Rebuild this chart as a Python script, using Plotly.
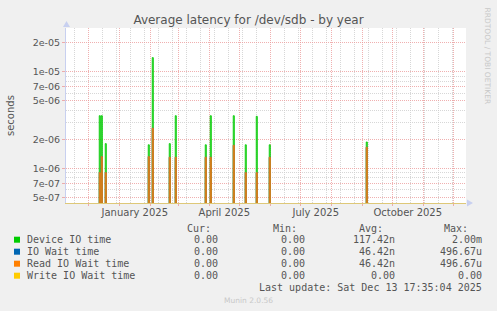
import pandas as pd
import plotly.graph_objects as go

# ---------------- data ----------------
START = "2024-11-08 17:35:04"
END = "2025-12-13 17:35:04"

spike_dates = ["2024-12-12", "2024-12-14", "2024-12-18", "2025-01-30", "2025-02-03",
               "2025-02-20", "2025-02-26", "2025-03-28", "2025-04-02", "2025-04-25",
               "2025-05-07", "2025-05-18", "2025-05-31", "2025-09-05"]
device_io = [3.5e-6, 3.5e-6, 1.8e-6, 1.75e-6, 1.4e-5,
             1.8e-6, 3.5e-6, 1.75e-6, 3.5e-6, 3.5e-6,
             1.75e-6, 3.45e-6, 1.75e-6, 1.87e-6]
io_wait = [9.0e-7, 1.32e-6, 9.0e-7, 1.32e-6, 2.6e-6,
           1.3e-6, 1.3e-6, 1.3e-6, 1.3e-6, 1.73e-6,
           9.0e-7, 9.0e-7, 1.3e-6, 1.65e-6]
read_io_wait = [9.0e-7, 1.32e-6, 9.0e-7, 1.32e-6, 2.6e-6,
                1.3e-6, 1.3e-6, 1.3e-6, 1.3e-6, 1.73e-6,
                9.0e-7, 9.0e-7, 1.3e-6, 1.65e-6]
write_io_wait = [0.0, 0.0, 0.0, 0.0, 0.0, 0.0, 0.0, 0.0, 0.0, 0.0, 0.0, 0.0, 0.0, 0.0]

y_major = [5e-7, 7e-7, 1e-6, 2e-6, 5e-6, 7e-6, 1e-5, 2e-5]
y_major_text = ["5e-07", "7e-07", "1e-06", "2e-06", "5e-06", "7e-06", "1e-05", "2e-05"]
y_minor = [6e-7, 8e-7, 9e-7, 3e-6, 4e-6, 6e-6, 8e-6, 9e-6]

x_label_vals = ["2025-01-16 12:00", "2025-04-16", "2025-07-16 12:00", "2025-10-16 12:00"]
x_label_text = ["January 2025", "April 2025", "July 2025", "October 2025"]

legend_names = ["Device IO time", "IO Wait time", "Read IO Wait time", "Write IO Wait time"]
legend_colors = ["#00CC00", "#0066B3", "#FF8000", "#FFCC00"]
cur_vals = ["0.00", "0.00", "0.00", "0.00"]
min_vals = ["0.00", "0.00", "0.00", "0.00"]
avg_vals = ["117.42n", "46.42n", "46.42n", "0.00"]
max_vals = ["2.00m", "496.67u", "496.67u", "0.00"]

# zero values sit below the log axis (rrdtool clips them to the bottom)
FLOOR = 1e-9
days = pd.date_range("2024-11-08", "2025-12-14", freq="D")


def daily(vals):
    s = pd.Series(0.0, index=days)
    s.loc[pd.to_datetime(spike_dates)] = vals
    return s.clip(lower=FLOOR)


# ---------------- layout geometry ----------------
W, H = 497, 311
L, R, T, B = 66, 466, 28, 203


def px(x):
    return (x - L) / (R - L)


def py(y):
    return (B - y) / (B - T)


RED = "rgba(235,150,150,0.75)"
GRAY = "rgba(205,205,205,0.8)"
TXT = "#555555"

fig = go.Figure()
series = [("Device IO time", device_io, "#00CC00"),
          ("IO Wait time", io_wait, "#0066B3"),
          ("Read IO Wait time", read_io_wait, "#FF8000")]
for name, vals, col in series:
    s = daily(vals)
    fig.add_trace(go.Scatter(x=s.index, y=s.values, mode="lines", name=name,
                             line=dict(color=col, width=1, shape="hv"),
                             xaxis="x2", showlegend=False, hoverinfo="skip"))
sw = daily(write_io_wait)
fig.add_trace(go.Scatter(x=sw.index, y=sw.values, mode="lines", name="Write IO Wait time",
                         line=dict(color="#FFCC00", width=1, shape="hv"),
                         showlegend=False, hoverinfo="skip"))

fig.update_layout(
    width=W, height=H,
    margin=dict(l=L, r=W - R, t=T, b=H - B, pad=0),
    paper_bgcolor="#F0F0F0", plot_bgcolor="#FFFFFF",
    showlegend=False,
    title=dict(text="Average latency for /dev/sdb - by year", x=0.5, xanchor="center",
               y=1 - 19.5 / H, yanchor="middle",
               font=dict(family="DejaVu Sans", size=12, color="#555555")),
    xaxis=dict(type="date", range=[START, END], showgrid=False, zeroline=False,
               tickmode="array", tickvals=x_label_vals, ticktext=x_label_text,
               ticks="", showline=True, linecolor="rgb(222,200,120)", linewidth=1,
               tickfont=dict(family="DejaVu Sans", size=10, color=TXT)),
    xaxis2=dict(type="date", range=[START, END], overlaying="x", side="bottom",
                showticklabels=False, showline=False, zeroline=False,
                tickmode="linear", dtick="M1", tick0="2024-12-01",
                showgrid=True, gridcolor=RED, gridwidth=1, griddash="1px,1px",
                ticks="outside", ticklen=2, tickcolor=RED,
                minor=dict(tickmode="linear", dtick=14 * 86400000, tick0="2025-07-13",
                           showgrid=True, gridcolor=GRAY, gridwidth=1, griddash="1px,1px")),
    yaxis=dict(type="log", range=[-6.36, -4.547], zeroline=False,
               tickmode="array", tickvals=y_major, ticktext=y_major_text,
               showgrid=True, gridcolor=RED, gridwidth=1, griddash="1px,1px",
               ticks="outside", ticklen=3, tickcolor=RED,
               showline=True, linecolor="#C8D0F0", linewidth=1,
               tickfont=dict(family="DejaVu Sans", size=9.5, color=TXT),
               minor=dict(tickmode="array", tickvals=y_minor, showgrid=True,
                          gridcolor=GRAY, gridwidth=1, griddash="1px,1px")),
)

ann = []
# y axis title
ann.append(dict(text="seconds", x=px(10), y=py(115), xref="paper", yref="paper",
                showarrow=False, textangle=-90, xanchor="center", yanchor="middle",
                font=dict(family="DejaVu Sans", size=10, color=TXT)))
# rrdtool watermark
ann.append(dict(text="RRDTOOL / TOBI OETIKER", x=px(487), y=py(5), xref="paper", yref="paper",
                showarrow=False, textangle=90, xanchor="center", yanchor="top",
                font=dict(family="DejaVu Sans", size=7.5, color="#C8C8C8")))
MONO = dict(family="DejaVu Sans Mono", size=10, color=TXT)
headers = [("Cur:", 213), ("Min:", 299), ("Avg:", 385), ("Max:", 470)]
for h, xr in headers:
    ann.append(dict(text=h, x=px(xr), y=py(228.3), xref="paper", yref="paper",
                    showarrow=False, xanchor="right", yanchor="middle", font=MONO))
shapes = []
row_y = [239.7, 251.7, 263.7, 275.7]
for i, name in enumerate(legend_names):
    yy = row_y[i]
    shapes.append(dict(type="rect", xref="paper", yref="paper",
                       x0=px(14), x1=px(20), y0=py(yy + 3), y1=py(yy - 3),
                       fillcolor=legend_colors[i], line=dict(width=0)))
    ann.append(dict(text=name, x=px(25), y=py(yy), xref="paper", yref="paper",
                    showarrow=False, xanchor="left", yanchor="middle", font=MONO))
    for vals, xr in [(cur_vals, 220), (min_vals, 306.5), (avg_vals, 397), (max_vals, 483.5)]:
        ann.append(dict(text=vals[i], x=px(xr), y=py(yy), xref="paper", yref="paper",
                        showarrow=False, xanchor="right", yanchor="middle", font=MONO))
ann.append(dict(text="Last update: Sat Dec 13 17:35:04 2025", x=px(483.5), y=py(287.7),
                xref="paper", yref="paper", showarrow=False, xanchor="right",
                yanchor="middle", font=MONO))
ann.append(dict(text="Munin 2.0.56", x=px(248), y=py(300.3), xref="paper", yref="paper",
                showarrow=False, xanchor="center", yanchor="middle",
                font=dict(family="DejaVu Sans", size=7.5, color="#C8C8C8")))

# axis arrows
shapes.append(dict(type="path", xref="paper", yref="paper",
                   path=f"M {px(63)} {py(27)} L {px(70)} {py(27)} L {px(66.5)} {py(21)} Z",
                   fillcolor="#C8D0F0", line=dict(width=0)))
shapes.append(dict(type="path", xref="paper", yref="paper",
                   path=f"M {px(467)} {py(199.5)} L {px(467)} {py(206.5)} L {px(473)} {py(203)} Z",
                   fillcolor="#C8D0F0", line=dict(width=0)))

fig.update_layout(annotations=ann, shapes=shapes)
fig.write_html("out.html")
